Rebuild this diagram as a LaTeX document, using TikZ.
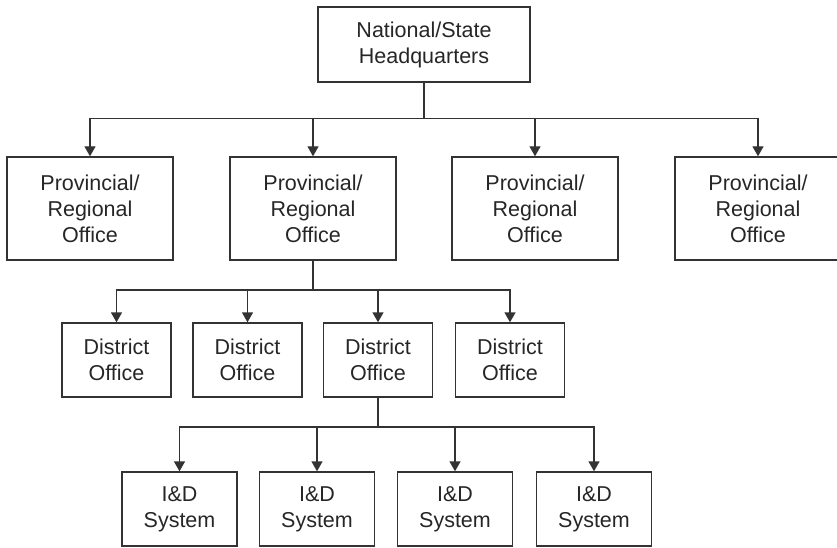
\documentclass[tikz,border=0pt]{standalone}
\usepackage{fontspec}
\setmainfont{Liberation Sans}
\usetikzlibrary{arrows.meta}
\begin{document}
\begin{tikzpicture}[x=1pt,y=-1pt,
  box/.style={draw=black!80, line width=1.4pt, text=black!85, align=center,
    inner sep=0pt, font=\fontsize{21.5}{26}\selectfont},
  hqbox/.style={box, minimum width=212pt, minimum height=75pt},
  provbox/.style={box, minimum width=166pt, minimum height=103pt},
  distbox/.style={box, minimum width=109pt, minimum height=74pt},
  sysbox/.style={box, minimum width=115pt, minimum height=74pt},
  link/.style={draw=black!80, line width=1.4pt},
  arr/.style={link, -{Triangle[length=10pt,width=11pt]}}]
\useasboundingbox (0,0) rectangle (837,548);

% top level
\node[hqbox] (hq) at (424,44.5) {National/State\\Headquarters};

% provincial / regional offices
\node[provbox] (p1) at (90,208.5)  {Provincial/\\Regional\\Office};
\node[provbox] (p2) at (313,208.5) {Provincial/\\Regional\\Office};
\node[provbox] (p3) at (535,208.5) {Provincial/\\Regional\\Office};
\node[provbox] (p4) at (758,208.5) {Provincial/\\Regional\\Office};

% district offices
\node[distbox] (d1) at (116.5,360) {District\\Office};
\node[distbox] (d2) at (247.5,360) {District\\Office};
\node[distbox] (d3) at (378,360)   {District\\Office};
\node[distbox] (d4) at (510,360)   {District\\Office};

% irrigation and drainage systems
\node[sysbox] (s1) at (179.5,509) {I\&D\\System};
\node[sysbox] (s2) at (317,509)   {I\&D\\System};
\node[sysbox] (s3) at (455,509)   {I\&D\\System};
\node[sysbox] (s4) at (594,509)   {I\&D\\System};

% bus junctions
\coordinate (bh) at (hq.south |- 0,118.5);
\coordinate (bp) at (p2.south |- 0,290);
\coordinate (bd) at (d3.south |- 0,427);

\draw[link] (hq.south) -- (bh);
\foreach \n in {p1,p2,p3,p4} \draw[arr] (bh) -| (\n);

\draw[link] (p2.south) -- (bp);
\foreach \n in {d1,d2,d3,d4} \draw[arr] (bp) -| (\n);

\draw[link] (d3.south) -- (bd);
\foreach \n in {s1,s2,s3,s4} \draw[arr] (bd) -| (\n);
\end{tikzpicture}
\end{document}
